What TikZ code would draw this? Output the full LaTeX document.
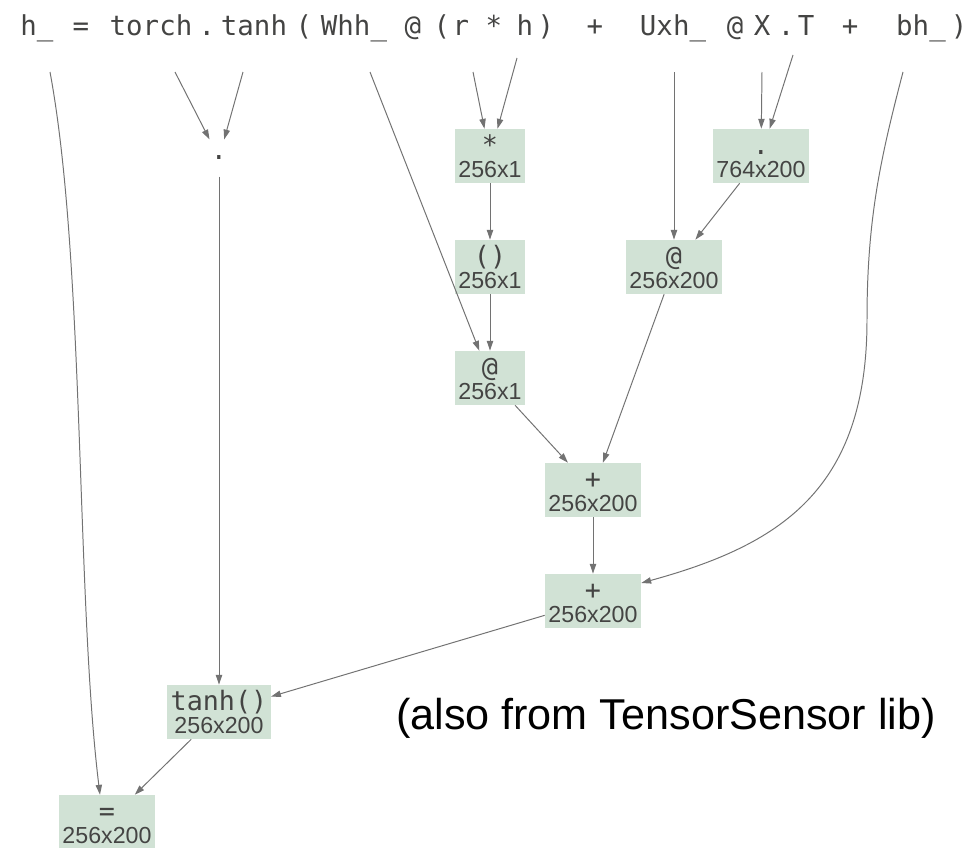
\documentclass[tikz,border=0pt]{standalone}
\usepackage{fontspec}
\setmainfont{Liberation Sans}
\newfontfamily\codefont{DejaVu Sans Mono}
\usetikzlibrary{arrows.meta,positioning,calc}

\definecolor{opgreen}{HTML}{D1E2D5}
\definecolor{optext}{HTML}{444443}
\definecolor{edgegray}{HTML}{727272}

\newcommand{\opfont}{\codefont\fontsize{19}{16.5}\selectfont}
\newcommand{\szfont}{\fontsize{16.5}{16.5}\selectfont}
\newcommand{\oplabel}[2]{{\opfont\rule{0pt}{14pt}#1}\\{\szfont #2}}

\begin{document}
\begin{tikzpicture}[x=0.025cm,y=-0.025cm,
    tok/.style={anchor=base, inner sep=0pt, text=optext, font=\codefont\fontsize{19.5}{20}\selectfont},
    opnode/.style={rectangle, fill=opgreen, text=optext, align=center, inner xsep=2.5pt, inner ysep=0pt, minimum height=38.4pt, font=\szfont},
    dotnode/.style={rectangle, text=optext, inner sep=0pt, minimum width=17pt, minimum height=26pt, font=\opfont},
    flow/.style={draw=edgegray, line width=0.7pt, -{Triangle[length=7pt,width=4.5pt]}}]
        \useasboundingbox (0,0) rectangle (976,848);
        % source line
        \node[tok] at (37,35) (th) {h\_};
        \node[tok] at (81,35) (teq) {=};
        \node[tok] at (151,35) (ttorch) {torch};
        \node[tok] at (207,35) (tdot) {.};
        \node[tok] at (254,35) (ttanh) {tanh};
        \node[tok] at (304,35) (tlpa) {(};
        \node[tok] at (354,35) (twhh) {Whh\_};
        \node[tok] at (413,35) (tatw) {@};
        \node[tok] at (442,35) (tlpb) {(};
        \node[tok] at (461,35) (tr) {r};
        \node[tok] at (494,35) (tmul) {*};
        \node[tok] at (525,35) (th2) {h};
        \node[tok] at (546,35) (trpb) {)};
        \node[tok] at (595,35) (tplusa) {+};
        \node[tok] at (673,35) (tuxh) {Uxh\_};
        \node[tok] at (735,35) (tatu) {@};
        \node[tok] at (762,35) (tx) {X};
        \node[tok] at (786,35) (tdot2) {.};
        \node[tok] at (806,35) (tt) {T};
        \node[tok] at (850,35) (tplusb) {+};
        \node[tok] at (921,35) (tbh) {bh\_};
        \node[tok] at (959,35) (trpa) {)};
        \coordinate (hS) at (50,72);
        \coordinate (torchS) at (175,72);
        \coordinate (tanhS) at (243,72);
        \coordinate (whhS) at (370,72);
        \coordinate (rS) at (473,72);
        \coordinate (hhS) at (517,58);
        \coordinate (uxhS) at (674,72);
        \coordinate (xS) at (762,72);
        \coordinate (tS) at (793,55);
        \coordinate (bhS) at (903,72);
        % operators
        \node[dotnode] at (219,158) (attr) {.};
        \node[opnode] at (490,156) (mul) {\oplabel{*}{256x1}};
        \node[opnode] at (490,267) (paren) {\oplabel{()}{256x1}};
        \node[opnode] at (490,378) (matw) {\oplabel{@}{256x1}};
        \node[opnode] at (761,156) (trans) {\oplabel{.}{764x200}};
        \node[opnode] at (674,267) (matu) {\oplabel{@}{256x200}};
        \node[opnode] at (593,490) (addone) {\oplabel{+}{256x200}};
        \node[opnode] at (593,601) (addtwo) {\oplabel{+}{256x200}};
        \node[opnode] at (219,712) (tanh) {\oplabel{tanh()}{256x200}};
        \node[opnode] at (107,822) (assign) {\oplabel{=}{256x200}};
        \node[font=\fontsize{30.7}{36}\selectfont] at (666,718) (note) {(also from TensorSensor lib)};
        % edges
        \draw[flow] (hS) .. controls (85,260) and (76,600) .. ($(assign.north)+(-7,0)$);
        \draw[flow] (torchS) -- (attr);
        \draw[flow] (tanhS) -- (attr);
        \draw[flow] (attr) -- (tanh);
        \draw[flow] (whhS) -- (matw);
        \draw[flow] (rS) -- (mul);
        \draw[flow] (hhS) -- (mul);
        \draw[flow] (mul) -- (paren);
        \draw[flow] (paren) -- (matw);
        \draw[flow] (uxhS) -- (matu);
        \draw[flow] (xS) -- (trans);
        \draw[flow] (tS) -- (trans);
        \draw[flow] (trans) -- (matu);
        \draw[flow] (matw) -- (addone);
        \draw[flow] (matu) -- (addone);
        \draw[flow] (addone) -- (addtwo);
        \draw[flow] (bhS) .. controls (880,160) and (867,220) .. (867,320)
            .. controls (867,490) and (780,545) .. ($(addtwo.east)+(0,-18)$);
        \draw[flow] (addtwo) -- (tanh);
        \draw[flow] (tanh) -- (assign);
\end{tikzpicture}
\end{document}
